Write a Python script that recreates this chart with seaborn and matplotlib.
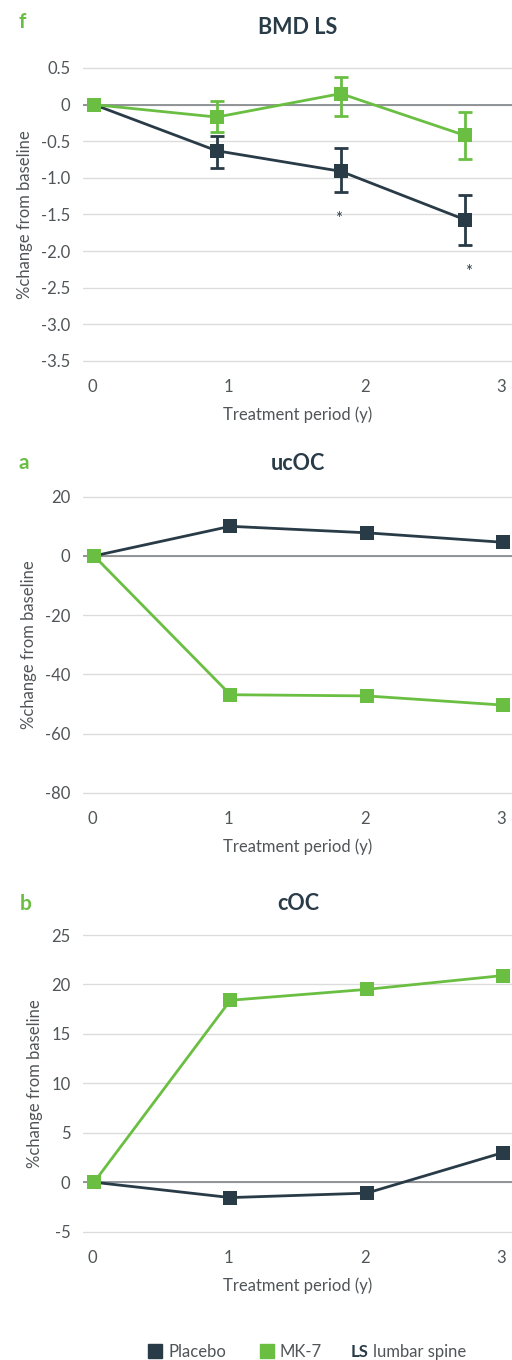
import numpy as np
import pandas as pd
import matplotlib.pyplot as plt
import matplotlib.transforms as mtrans
import seaborn as sns
from matplotlib.lines import Line2D

sns.set_theme(style="white")
plt.rcParams['font.family'] = ['Lato', 'DejaVu Sans']

DARK = '#283b47'
GREEN = '#6abf43'
TXT = '#505558'

# BMD LS (with asymmetric error bars)
bmd_x = [0, 0.9, 1.81, 2.72]
bmd_placebo = [0, -0.63, -0.91, -1.57]
bmd_placebo_hi = [0, -0.43, -0.59, -1.24]
bmd_placebo_lo = [0, -0.87, -1.19, -1.92]
bmd_mk7 = [0, -0.17, 0.15, -0.42]
bmd_mk7_hi = [0, 0.05, 0.38, -0.10]
bmd_mk7_lo = [0, -0.37, -0.15, -0.74]
star_x = [1.79, 2.75]
star_y = [-1.56, -2.28]

# ucOC
oc_x = [0, 1, 2, 3]
ucoc_placebo = [0, 10.0, 7.8, 4.6]
ucoc_mk7 = [0, -46.9, -47.3, -50.4]

# cOC
coc_placebo = [0, -1.55, -1.1, 3.0]
coc_mk7 = [0, 18.4, 19.5, 20.9]

W, H = 512, 1360
FS = 12
fig = plt.figure(figsize=(W / 100, H / 100), dpi=100)


def make_ax(top_px, bot_px):
    return fig.add_axes([83 / W, 1 - bot_px / H, (512 - 83) / W, (bot_px - top_px) / H])


def style(ax, ticks, labels, lo, hi, per_px):
    pad = 3 / per_px
    ax.set_ylim(lo - pad, hi + pad)
    ax.set_xlim(-0.081, 3.066)
    ax.set_yticks(ticks)
    ax.set_yticklabels(labels)
    ax.set_xticks([0, 1, 2, 3])
    ax.set_xticklabels(['0', '1', '2', '3'])
    ax.tick_params(axis='both', length=0, labelsize=FS, colors=TXT)
    ax.tick_params(axis='y', pad=9)
    ax.tick_params(axis='x', pad=11)
    shift = mtrans.ScaledTranslation(-2 / 100, 0, fig.dpi_scale_trans)
    for t in ax.get_xticklabels():
        t.set_transform(t.get_transform() + shift)
    ax.grid(axis='y', color='#dcdcdc', lw=1)
    ax.axhline(0, color='#8a8d90', lw=1.3, zorder=1)
    for s in ax.spines.values():
        s.set_visible(False)
    ax.set_xlabel('Treatment period (y)', fontsize=FS, color=TXT, labelpad=8)
    ax.set_ylabel('%change from baseline', fontsize=FS, color=TXT, labelpad=6)


def plot_pair(ax, x, plc, mk7):
    df = pd.DataFrame({'x': x * 2, 'y': plc + mk7,
                       'group': ['Placebo'] * len(x) + ['MK-7'] * len(x)})
    sns.lineplot(data=df, x='x', y='y', hue='group', palette={'Placebo': DARK, 'MK-7': GREEN},
                 hue_order=['Placebo', 'MK-7'], marker='s', markersize=10, markeredgewidth=0,
                 linewidth=2, legend=False, ax=ax, zorder=3)


# --- panel f: BMD LS ---
ax1 = make_ax(65, 364)
plot_pair(ax1, bmd_x, bmd_placebo, bmd_mk7)
for vals, hi, lo, c in [(bmd_placebo, bmd_placebo_hi, bmd_placebo_lo, DARK),
                        (bmd_mk7, bmd_mk7_hi, bmd_mk7_lo, GREEN)]:
    v = np.array(vals)
    yerr = [v - np.array(lo), np.array(hi) - v]
    ax1.errorbar(bmd_x[1:], v[1:], yerr=[yerr[0][1:], yerr[1][1:]], fmt='none', ecolor=c,
                 elinewidth=2, capsize=5, capthick=2, zorder=4)
for sx, sy in zip(star_x, star_y):
    ax1.text(sx, sy, '*', ha='center', va='center', fontsize=12, color=DARK)
style(ax1, [0.5, 0, -0.5, -1.0, -1.5, -2.0, -2.5, -3.0, -3.5],
      ['0.5', '0', '-0.5', '-1.0', '-1.5', '-2.0', '-2.5', '-3.0', '-3.5'],
      -3.5, 0.5, 73.25)

# --- panel a: ucOC ---
ax2 = make_ax(493.7, 795.7)
plot_pair(ax2, oc_x, ucoc_placebo, ucoc_mk7)
style(ax2, [20, 0, -20, -40, -60, -80], ['20', '0', '-20', '-40', '-60', '-80'],
      -80, 20, 2.96)

# --- panel b: cOC ---
ax3 = make_ax(932, 1234.7)
plot_pair(ax3, oc_x, coc_placebo, coc_mk7)
style(ax3, [25, 20, 15, 10, 5, 0, -5], ['25', '20', '15', '10', '5', '0', '-5'],
      -5, 25, 9.89)

# panel titles and letters
for txt, ty in [('BMD LS', 27), ('ucOC', 464), ('cOC', 904)]:
    fig.text(298 / W, 1 - ty / H, txt, ha='center', va='center', fontsize=15.5,
             fontweight='bold', color=DARK)
for txt, lx, ly in [('f', 22, 22), ('a', 24, 463), ('b', 26, 904)]:
    fig.text(lx / W, 1 - ly / H, txt, ha='center', va='center', fontsize=15,
             fontweight='bold', color=GREEN)

# legend
handles = [Line2D([], [], marker='s', ls='none', color=DARK, markersize=10),
           Line2D([], [], marker='s', ls='none', color=GREEN, markersize=10)]
fig.legend(handles, ['Placebo', 'MK-7'], ncol=2, frameon=False, loc='center left',
           bbox_to_anchor=(132 / W, 1 - 1352 / H), fontsize=FS, handletextpad=0.3,
           columnspacing=1.9, labelcolor=TXT, handlelength=1.0)
fig.text(351 / W, 1 - 1352 / H, 'LS', ha='left', va='center', fontsize=FS,
         fontweight='bold', color=DARK)
fig.text(373 / W, 1 - 1352 / H, 'lumbar spine', ha='left', va='center', fontsize=FS,
         color=TXT)

fig.savefig('out.png', dpi=100)
